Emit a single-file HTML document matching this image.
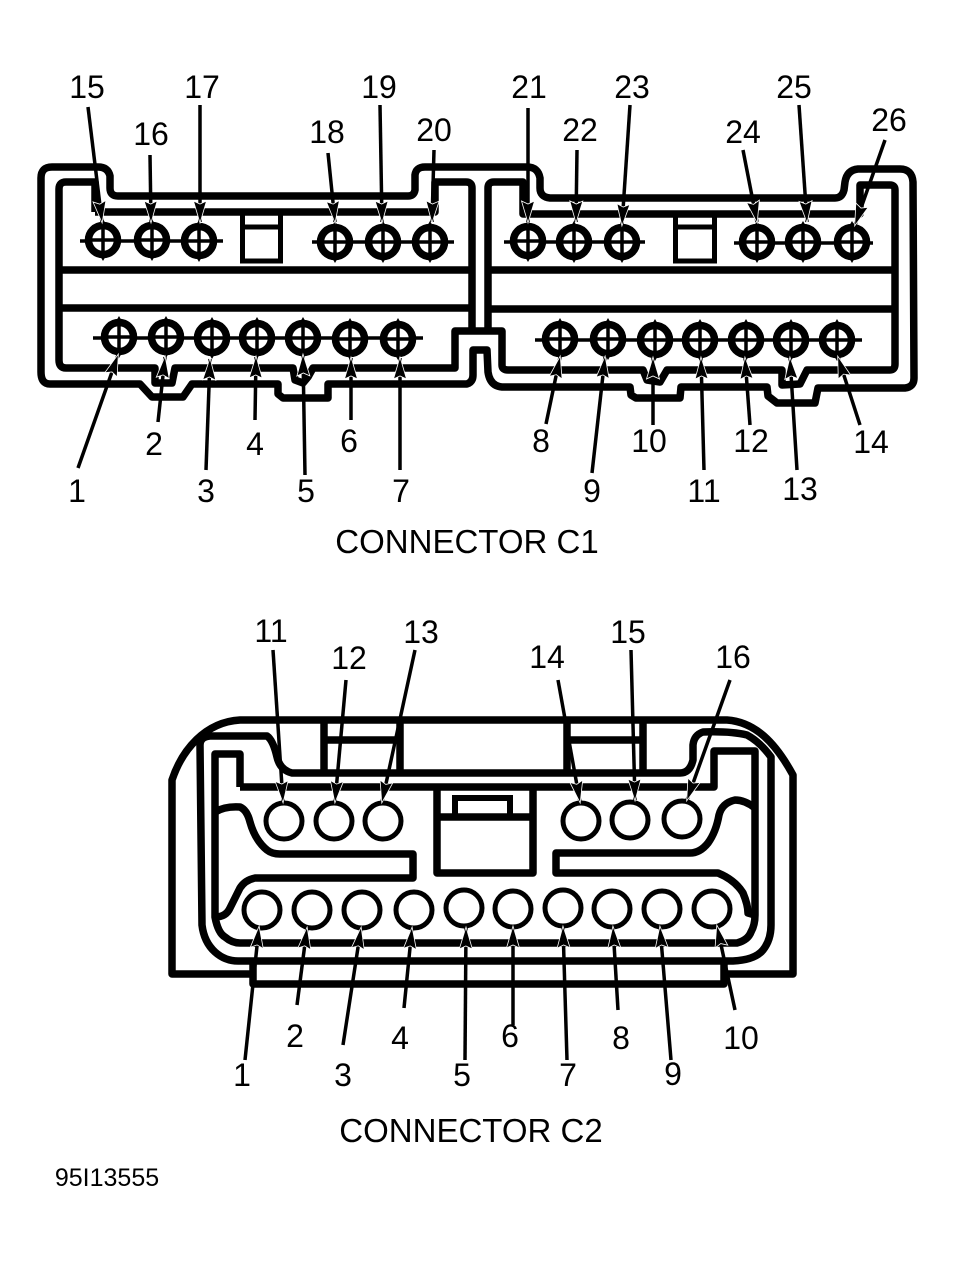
<!DOCTYPE html>
<html><head><meta charset="utf-8"><style>
html,body{margin:0;padding:0;background:#fff}
svg{display:block}
text{font-family:"Liberation Sans",sans-serif;font-size:32px;fill:#000;text-anchor:middle}
.s{fill:none;stroke:#000;stroke-width:7.5;stroke-linejoin:round}
.t{fill:none;stroke:#000;stroke-width:5}
.a{stroke:#000;stroke-width:3.5;marker-end:url(#h)}
.c{fill:#fff;stroke:#000;stroke-width:5}
</style></head><body>
<svg width="955" height="1262" viewBox="0 0 955 1262" xmlns="http://www.w3.org/2000/svg">
<defs>
<marker id="h" markerUnits="userSpaceOnUse" markerWidth="26" markerHeight="18" refX="21" refY="8" orient="auto" overflow="visible">
<path d="M0,1.5 L22,8 L0,14.5 L3,8Z" fill="#000" stroke="#fff" stroke-width="0.8"/>
</marker>
<g id="p">
<path d="M0,-21 L3.5,-15 L-3.5,-15Z M0,21 L3.5,15 L-3.5,15Z" fill="#000"/>
<circle r="14.5" fill="#fff" stroke="#000" stroke-width="7.5"/>
<path d="M-12,0H12M0,-12V12" stroke="#000" stroke-width="3.5"/>
</g>
</defs>
<rect width="955" height="1262" fill="#fff"/>

<!-- C1 -->
<path class="s" d="M50,384 L140,384 L152,397 L183,397 L192,384 L278,384 L278,394 L283,398 L328,398 L328,384 L467,384 Q473,382 473,375 L473,350 L487,350 L488,372 Q490,386 502,387 L630,387 L631,395 L636,398 L680,398 L681,387 L767,387 L768,396 L777,403 L815,403 L818,388 L905,388 Q914,387 914,378 L913,182 Q912,169 900,169 L858,169 Q847,170 845,182 L844,190 Q842,198 835,198 L550,198 Q540,197 540,188 L540,178 Q538,167 527,167 L425,167 Q416,167 415,175 L415,190 Q414,196 408,196 L118,196 Q110,196 110,188 L110,176 Q108,167 98,167 L52,167 Q41,167 41,178 L41,372 Q41,384 50,384Z"/>
<path class="s" d="M95,212 L95,182 L66,182 Q59,182 59,189 L59,360 Q59,368 66,368 L155,368 L155,383 L172,383 L175,368 L293,368 L295,380 L303,383 L308,377 L313,368 L455,368 L455,331 L502,331 L502,365 Q502,370 508,370 L643,370 L647,380 L660,382 L667,370 L782,370 L782,385 L800,384 L807,370 L890,370 Q895,370 895,364 L895,190 Q895,185 890,185 L860,185 L860,214 L523,214 L523,182 L494,182 Q488,182 488,188 L488,331"/>
<path class="s" d="M472,331 L472,188 Q472,182 466,182 L435,182 L435,212 L95,212"/>
<path class="s" d="M59,270H472M59,308H472M488,270H895M488,309H895"/>
<path class="t" d="M242.5,214V261H280.5V214M242,227H281M675.5,216V261H714.5V216M675,227H715"/>

<path d="M80,241H223M93,338H423M504,242H645M734,243H873M535,340H862M312,242H454" stroke="#000" stroke-width="3.5" fill="none"/>
<use href="#p" x="103" y="240"/><use href="#p" x="152" y="240"/><use href="#p" x="199" y="241"/>
<use href="#p" x="335" y="242"/><use href="#p" x="383" y="242"/><use href="#p" x="430" y="242"/>
<use href="#p" x="528" y="241"/><use href="#p" x="574" y="242"/><use href="#p" x="622" y="242"/>
<use href="#p" x="757" y="242"/><use href="#p" x="803" y="242"/><use href="#p" x="852" y="242"/>
<use href="#p" x="119" y="337"/><use href="#p" x="166" y="337"/><use href="#p" x="212" y="338"/><use href="#p" x="257" y="338"/><use href="#p" x="303" y="338"/><use href="#p" x="350" y="339"/><use href="#p" x="398" y="339"/>
<use href="#p" x="560" y="339"/><use href="#p" x="608" y="339"/><use href="#p" x="655" y="340"/><use href="#p" x="700" y="340"/><use href="#p" x="746" y="340"/><use href="#p" x="791" y="340"/><use href="#p" x="837" y="340"/>

<line class="a" x1="88" y1="107" x2="102" y2="222"/>
<line class="a" x1="150" y1="155" x2="151" y2="222"/>
<line class="a" x1="200" y1="105" x2="200" y2="222"/>
<line class="a" x1="328" y1="153" x2="335" y2="222"/>
<line class="a" x1="380" y1="105" x2="382" y2="222"/>
<line class="a" x1="434" y1="150" x2="432" y2="222"/>
<line class="a" x1="528" y1="108" x2="528" y2="222"/>
<line class="a" x1="577" y1="150" x2="576" y2="222"/>
<line class="a" x1="630" y1="105" x2="622" y2="225"/>
<line class="a" x1="743" y1="150" x2="757" y2="222"/>
<line class="a" x1="799" y1="105" x2="807" y2="222"/>
<line class="a" x1="885" y1="140" x2="855" y2="225"/>
<line class="a" x1="78" y1="468" x2="118" y2="355"/>
<line class="a" x1="158" y1="422" x2="165" y2="357"/>
<line class="a" x1="206" y1="470" x2="210" y2="359"/>
<line class="a" x1="255" y1="420" x2="256" y2="357"/>
<line class="a" x1="305" y1="475" x2="303" y2="355"/>
<line class="a" x1="351" y1="420" x2="351" y2="358"/>
<line class="a" x1="400" y1="470" x2="400" y2="358"/>
<line class="a" x1="546" y1="424" x2="560" y2="357"/>
<line class="a" x1="592" y1="473" x2="605" y2="357"/>
<line class="a" x1="653" y1="425" x2="653" y2="358"/>
<line class="a" x1="704" y1="470" x2="701" y2="358"/>
<line class="a" x1="750" y1="425" x2="745" y2="358"/>
<line class="a" x1="797" y1="470" x2="790" y2="358"/>
<line class="a" x1="860" y1="425" x2="838" y2="357"/>

<text x="87" y="98">15</text><text x="151" y="145">16</text><text x="202" y="98">17</text><text x="327" y="143">18</text><text x="379" y="98">19</text><text x="434" y="141">20</text><text x="529" y="98">21</text><text x="580" y="141">22</text><text x="632" y="98">23</text><text x="743" y="143">24</text><text x="794" y="98">25</text><text x="889" y="131">26</text>
<text x="77" y="502">1</text><text x="154" y="455">2</text><text x="206" y="502">3</text><text x="255" y="455">4</text><text x="306" y="502">5</text><text x="349" y="452">6</text><text x="401" y="502">7</text><text x="541" y="452">8</text><text x="592" y="502">9</text><text x="649" y="452">10</text><text x="704" y="502">11</text><text x="751" y="452">12</text><text x="800" y="500">13</text><text x="871" y="453">14</text>
<text x="467" y="553" style="font-size:33px">CONNECTOR C1</text>

<!-- C2 -->
<path class="s" d="M253,974 L172,974 L172,780 C182,750 205,722 240,720 L727,720 C755,722 775,742 793,775 L793,974 L724,974"/>
<path class="s" d="M253,961 L253,984 L724,984 L724,961"/>
<path class="s" d="M238,961 L733,961 Q755,960 763,950 Q771,940 771,925 L771,757 Q760,742 747,735 Q730,731 703,732 Q694,735 693,745 L693,760 Q690,773 680,773 L292,773 Q280,770 277,757 Q273,740 267,736 L210,736 Q200,737 200,745 L202,925 Q204,942 215,952 Q225,961 238,961Z"/>
<path class="s" d="M240,787 L240,754 L215,754 L215,917 Q218,933 225,937 Q232,943 240,943 L737,943 Q748,940 751,932 Q755,925 755,915 L755,751 L714,751 L714,787 L240,787"/>
<path class="s" d="M215,812 Q225,806 240,807 Q247,810 250,822 Q255,840 267,850 Q272,854 280,854 L413,854 L413,878 L255,878 Q245,880 240,888 L230,908 Q226,917 215,917"/>
<path class="s" d="M755,808 Q745,800 735,800 Q722,803 719,815 Q716,832 708,843 Q700,853 690,853 L556,853 L556,873 L718,873 Q735,880 743,893 Q748,905 748,913 L755,915"/>
<path class="s" d="M437,787 V873 H533 V787 M437,817 H533"/>
<path class="s" d="M324,720 V773 M400,720 V773 M324,740 H400 M567,720 V773 M643,720 V773 M567,740 H643"/>
<path d="M455,817 V798 H510 V817" fill="none" stroke="#000" stroke-width="6"/>

<circle class="c" cx="284" cy="821" r="18"/><circle class="c" cx="334" cy="821" r="18"/><circle class="c" cx="383" cy="821" r="18"/>
<circle class="c" cx="581" cy="821" r="18"/><circle class="c" cx="630" cy="820" r="18"/><circle class="c" cx="682" cy="819" r="18"/>
<circle class="c" cx="262" cy="910" r="18"/><circle class="c" cx="312" cy="910" r="18"/><circle class="c" cx="362" cy="910" r="18"/><circle class="c" cx="414" cy="910" r="18"/><circle class="c" cx="464" cy="908" r="18"/>
<circle class="c" cx="513" cy="909" r="18"/><circle class="c" cx="563" cy="908" r="18"/><circle class="c" cx="612" cy="909" r="18"/><circle class="c" cx="662" cy="909" r="18"/><circle class="c" cx="712" cy="909" r="18"/>

<line class="a" x1="273" y1="650" x2="283" y2="802"/>
<line class="a" x1="346" y1="680" x2="335" y2="802"/>
<line class="a" x1="415" y1="650" x2="382" y2="802"/>
<line class="a" x1="558" y1="680" x2="580" y2="802"/>
<line class="a" x1="631" y1="650" x2="635" y2="800"/>
<line class="a" x1="730" y1="680" x2="687" y2="800"/>
<line class="a" x1="245" y1="1060" x2="259" y2="927"/>
<line class="a" x1="297" y1="1005" x2="307" y2="928"/>
<line class="a" x1="343" y1="1045" x2="361" y2="928"/>
<line class="a" x1="404" y1="1008" x2="412" y2="928"/>
<line class="a" x1="465" y1="1060" x2="466" y2="928"/>
<line class="a" x1="513" y1="1025" x2="513" y2="927"/>
<line class="a" x1="567" y1="1060" x2="563" y2="927"/>
<line class="a" x1="618" y1="1010" x2="613" y2="927"/>
<line class="a" x1="671" y1="1060" x2="660" y2="927"/>
<line class="a" x1="735" y1="1010" x2="717" y2="926"/>

<text x="271" y="642">11</text><text x="349" y="669">12</text><text x="421" y="643">13</text><text x="547" y="668">14</text><text x="628" y="643">15</text><text x="733" y="668">16</text>
<text x="242" y="1086">1</text><text x="295" y="1047">2</text><text x="343" y="1086">3</text><text x="400" y="1049">4</text><text x="462" y="1086">5</text><text x="510" y="1047">6</text><text x="568" y="1086">7</text><text x="621" y="1049">8</text><text x="673" y="1085">9</text><text x="741" y="1049">10</text>
<text x="471" y="1142" style="font-size:33px">CONNECTOR C2</text>
<text x="107" y="1186" style="font-size:25px">95I13555</text>
</svg>
</body></html>
